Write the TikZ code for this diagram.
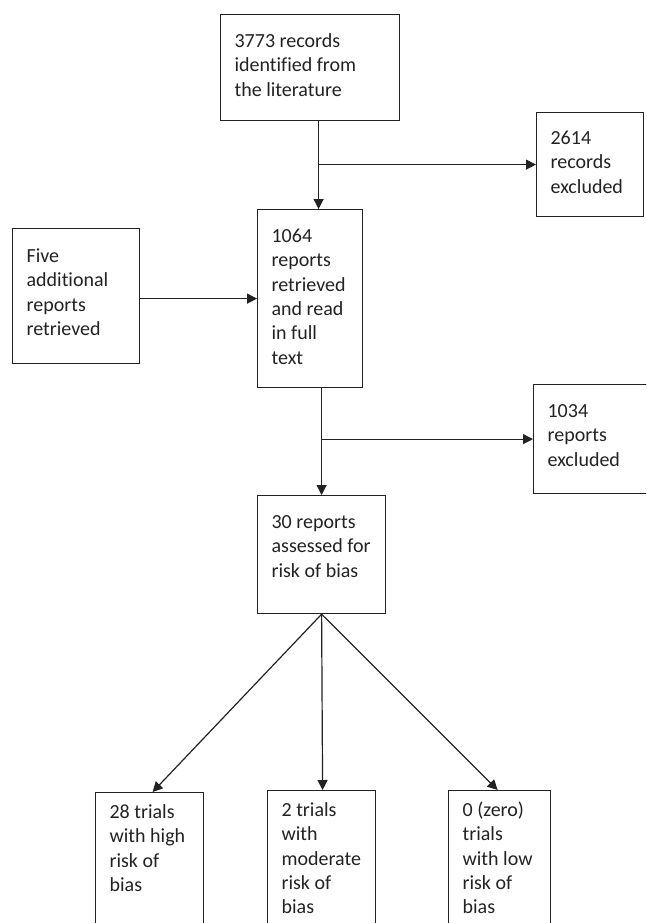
\documentclass[tikz,border=0pt]{standalone}
\usepackage{fontspec}
\setmainfont{Carlito}[Ligatures=NoCommon]
\usetikzlibrary{arrows.meta}
\definecolor{ink}{HTML}{222222}
\newcommand{\boxtext}[4]{\parbox[t][#2][t]{#1}{\vspace*{#3}\raggedright\leftskip=14pt\strut #4}}
\begin{document}
\begin{tikzpicture}[x=1pt,y=-1pt,
  box/.style={draw=ink, text=ink, line width=1.2pt, inner sep=0pt, anchor=north west, font=\fontsize{20}{24.3}\selectfont},
  arr/.style={draw=ink, line width=1.2pt, -{Triangle[length=10pt,width=10pt]}}]
\useasboundingbox (0,0) rectangle (646,923);
\clip (0,0) rectangle (646,923);
\node[box] (a) at (220,14) {\boxtext{179pt}{106pt}{16pt}{3773 records\\identified from\\the literature}};
\node[box] (r1) at (536,112) {\boxtext{107pt}{104pt}{15pt}{2614\\records\\excluded}};
\node[box] (f) at (12,228) {\boxtext{127pt}{135pt}{17pt}{Five\\additional\\reports\\retrieved}};
\node[box] (b) at (257,209) {\boxtext{105pt}{178pt}{16pt}{1064\\reports\\retrieved\\and read\\in full\\text}};
\node[box] (r2) at (533,384) {\boxtext{120pt}{109pt}{16pt}{1034\\reports\\excluded}};
\node[box] (c) at (257,495) {\boxtext{128pt}{118pt}{16pt}{30 reports\\assessed for\\risk of bias}};
\node[box] (d1) at (95,792) {\boxtext{108pt}{160pt}{9pt}{28 trials\\with high\\risk of\\bias}};
\node[box] (d2) at (267,790) {\boxtext{108pt}{160pt}{9pt}{2 trials\\with\\moderate\\risk of\\bias}};
\node[box] (d3) at (448,790) {\boxtext{102pt}{160pt}{9pt}{0 (zero)\\trials\\with low\\risk of\\bias}};
\coordinate (j1) at ([xshift=8.5pt]a.south |- r1.west);
\coordinate (j2) at (c.north |- r2.west);
\draw[arr] ([xshift=8.5pt]a.south) -- ([xshift=8.5pt]b.north);
\draw[arr] (j1) -- (r1.west);
\draw[arr] (f.east |- b.west) -- (b.west);
\draw[arr] (c.north |- b.south) -- (c.north);
\draw[arr] (j2) -- (r2.west);
\draw[arr] (c.south) -- ([xshift=3pt]d1.north);
\draw[arr] (c.south) -- ([xshift=1pt]d2.north);
\draw[arr] (c.south) -- ([xshift=-2pt]d3.north);
\end{tikzpicture}
\end{document}
